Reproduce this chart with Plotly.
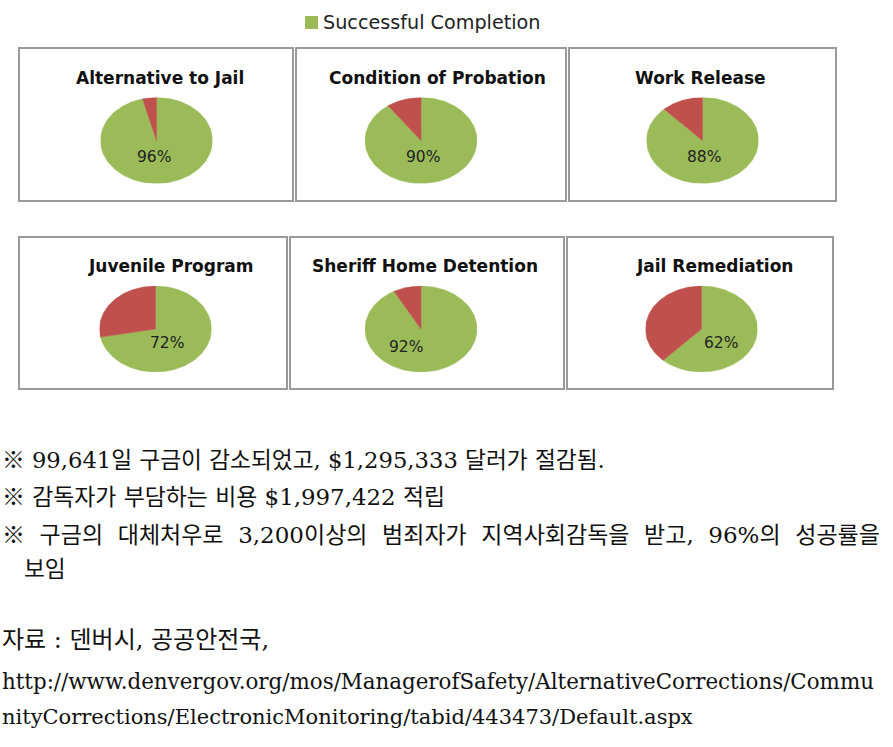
import numpy as np
import plotly.graph_objects as go

# ---------------- data ----------------
programs = ["Alternative to Jail", "Condition of Probation", "Work Release",
            "Juvenile Program", "Sheriff Home Detention", "Jail Remediation"]
success_pct = [96, 90, 88, 72, 92, 62]
legend_label = "Successful Completion"

notes = [
    "※ 99,641일 구금이 감소되었고, $1,295,333 달러가 절감됨.",
    "※ 감독자가 부담하는 비용 $1,997,422 적립",
    "※\u00a0\u00a0구금의\u00a0\u00a0대체처우로\u00a0\u00a03,200이상의\u00a0\u00a0범죄자가\u00a0\u00a0지역사회감독을\u00a0\u00a0받고,\u00a0\u00a096%의\u00a0\u00a0성공률을",
    "보임",
]
source_lines = [
    "자료 : 덴버시, 공공안전국,",
    "http://www.denvergov.org/mos/ManagerofSafety/AlternativeCorrections/Commu",
    "nityCorrections/ElectronicMonitoring/tabid/443473/Default.aspx",
]

# ---------------- layout (pixels) ----------------
W, H = 893, 747
GREEN = "#9BBB59"
RED = "#C0504D"
boxes = [(19, 48, 293, 201), (296, 48, 566, 201), (569, 48, 836, 201),
         (19, 237, 287, 389), (290, 237, 564, 389), (567, 237, 833, 389)]
pie_centers = [(156.5, 140.5), (421, 140.5), (702.5, 140.5),
               (155.5, 329), (421, 329), (701.5, 329)]
RX, RY = 56, 43
title_pos = [(160, 78), (437, 78), (700, 78), (171, 266), (425, 266), (714, 266)]
label_off = [(-3, 17), (2, 17), (1, 17), (11, 14), (-15, 18), (19, 14)]

def px(x):
    return x / W

def py(y):
    return 1 - y / H

fig = go.Figure()
shapes = []
annotations = []

for i, (name, pct) in enumerate(zip(programs, success_pct)):
    cx, cy = pie_centers[i]
    ax = "" if i == 0 else str(i + 1)
    xa = "xaxis" + ax
    ya = "yaxis" + ax
    fig.layout[xa] = dict(domain=[px(cx - RX), px(cx + RX)], range=[-1, 1],
                          visible=False, fixedrange=True, anchor="y" + ax)
    fig.layout[ya] = dict(domain=[py(cy + RY), py(cy - RY)], range=[-1, 1],
                          visible=False, fixedrange=True, anchor="x" + ax)
    frac = pct / 100.0
    # green wedge: clockwise from 12 o'clock
    t = np.linspace(0, 2 * np.pi * frac, 200)
    gx = np.concatenate([[0], np.sin(t), [0]])
    gy = np.concatenate([[0], np.cos(t), [0]])
    t2 = np.linspace(2 * np.pi * frac, 2 * np.pi, 100)
    rx_ = np.concatenate([[0], np.sin(t2), [0]])
    ry_ = np.concatenate([[0], np.cos(t2), [0]])
    fig.add_trace(go.Scatter(x=gx, y=gy, fill="toself", fillcolor=GREEN,
                             line=dict(color=GREEN, width=0.5), mode="lines",
                             xaxis="x" + ax, yaxis="y" + ax, showlegend=False,
                             hoverinfo="skip"))
    fig.add_trace(go.Scatter(x=rx_, y=ry_, fill="toself", fillcolor=RED,
                             line=dict(color=RED, width=0.5), mode="lines",
                             xaxis="x" + ax, yaxis="y" + ax, showlegend=False,
                             hoverinfo="skip"))
    # box
    x0, y0, x1, y1 = boxes[i]
    shapes.append(dict(type="rect", xref="paper", yref="paper",
                       x0=px(x0), x1=px(x1), y0=py(y1), y1=py(y0),
                       line=dict(color="#9a9a9a", width=2)))
    # title
    tx, ty = title_pos[i]
    annotations.append(dict(text="<b>%s</b>" % name, x=px(tx), y=py(ty),
                            xref="paper", yref="paper", showarrow=False,
                            xanchor="center", yanchor="middle",
                            font=dict(family="DejaVu Sans", size=17, color="#111")))
    # value label
    ox, oy = label_off[i]
    annotations.append(dict(text="%d%%" % pct, x=px(cx + ox), y=py(cy + oy),
                            xref="paper", yref="paper", showarrow=False,
                            xanchor="center", yanchor="middle",
                            font=dict(family="DejaVu Sans", size=15.5, color="#222")))

# legend
shapes.append(dict(type="rect", xref="paper", yref="paper",
                   x0=px(305), x1=px(318), y0=py(29), y1=py(16),
                   fillcolor=GREEN, line=dict(width=0)))
annotations.append(dict(text=legend_label, x=px(321), y=py(22.5), xref="paper",
                        yref="paper", showarrow=False, xanchor="left",
                        yanchor="middle",
                        font=dict(family="DejaVu Sans", size=19.2, color="#222")))

KFONT = "DejaVu Serif, Noto Sans CJK KR"
note_pos = [(0, 460), (0, 497), (0, 535), (22, 569)]
note_size = [22.7, 22.9, 23, 22.7]
for (x, y), txt, s in zip(note_pos, notes, note_size):
    annotations.append(dict(text=txt, x=px(x), y=py(y), xref="paper",
                            yref="paper", showarrow=False, xanchor="left",
                            yanchor="middle",
                            font=dict(family=KFONT, size=s, color="#111")))
src_pos = [(0, 640), (0, 681), (0, 717)]
src_size = [24, 21.4, 21]
for (x, y), txt, s in zip(src_pos, source_lines, src_size):
    annotations.append(dict(text=txt, x=px(x), y=py(y), xref="paper",
                            yref="paper", showarrow=False, xanchor="left",
                            yanchor="middle",
                            font=dict(family=KFONT, size=s, color="#111")))

fig.update_layout(width=W, height=H, margin=dict(l=0, r=0, t=0, b=0),
                  paper_bgcolor="white", plot_bgcolor="rgba(0,0,0,0)",
                  shapes=shapes, annotations=annotations, showlegend=False)
fig.write_html("out.html")
